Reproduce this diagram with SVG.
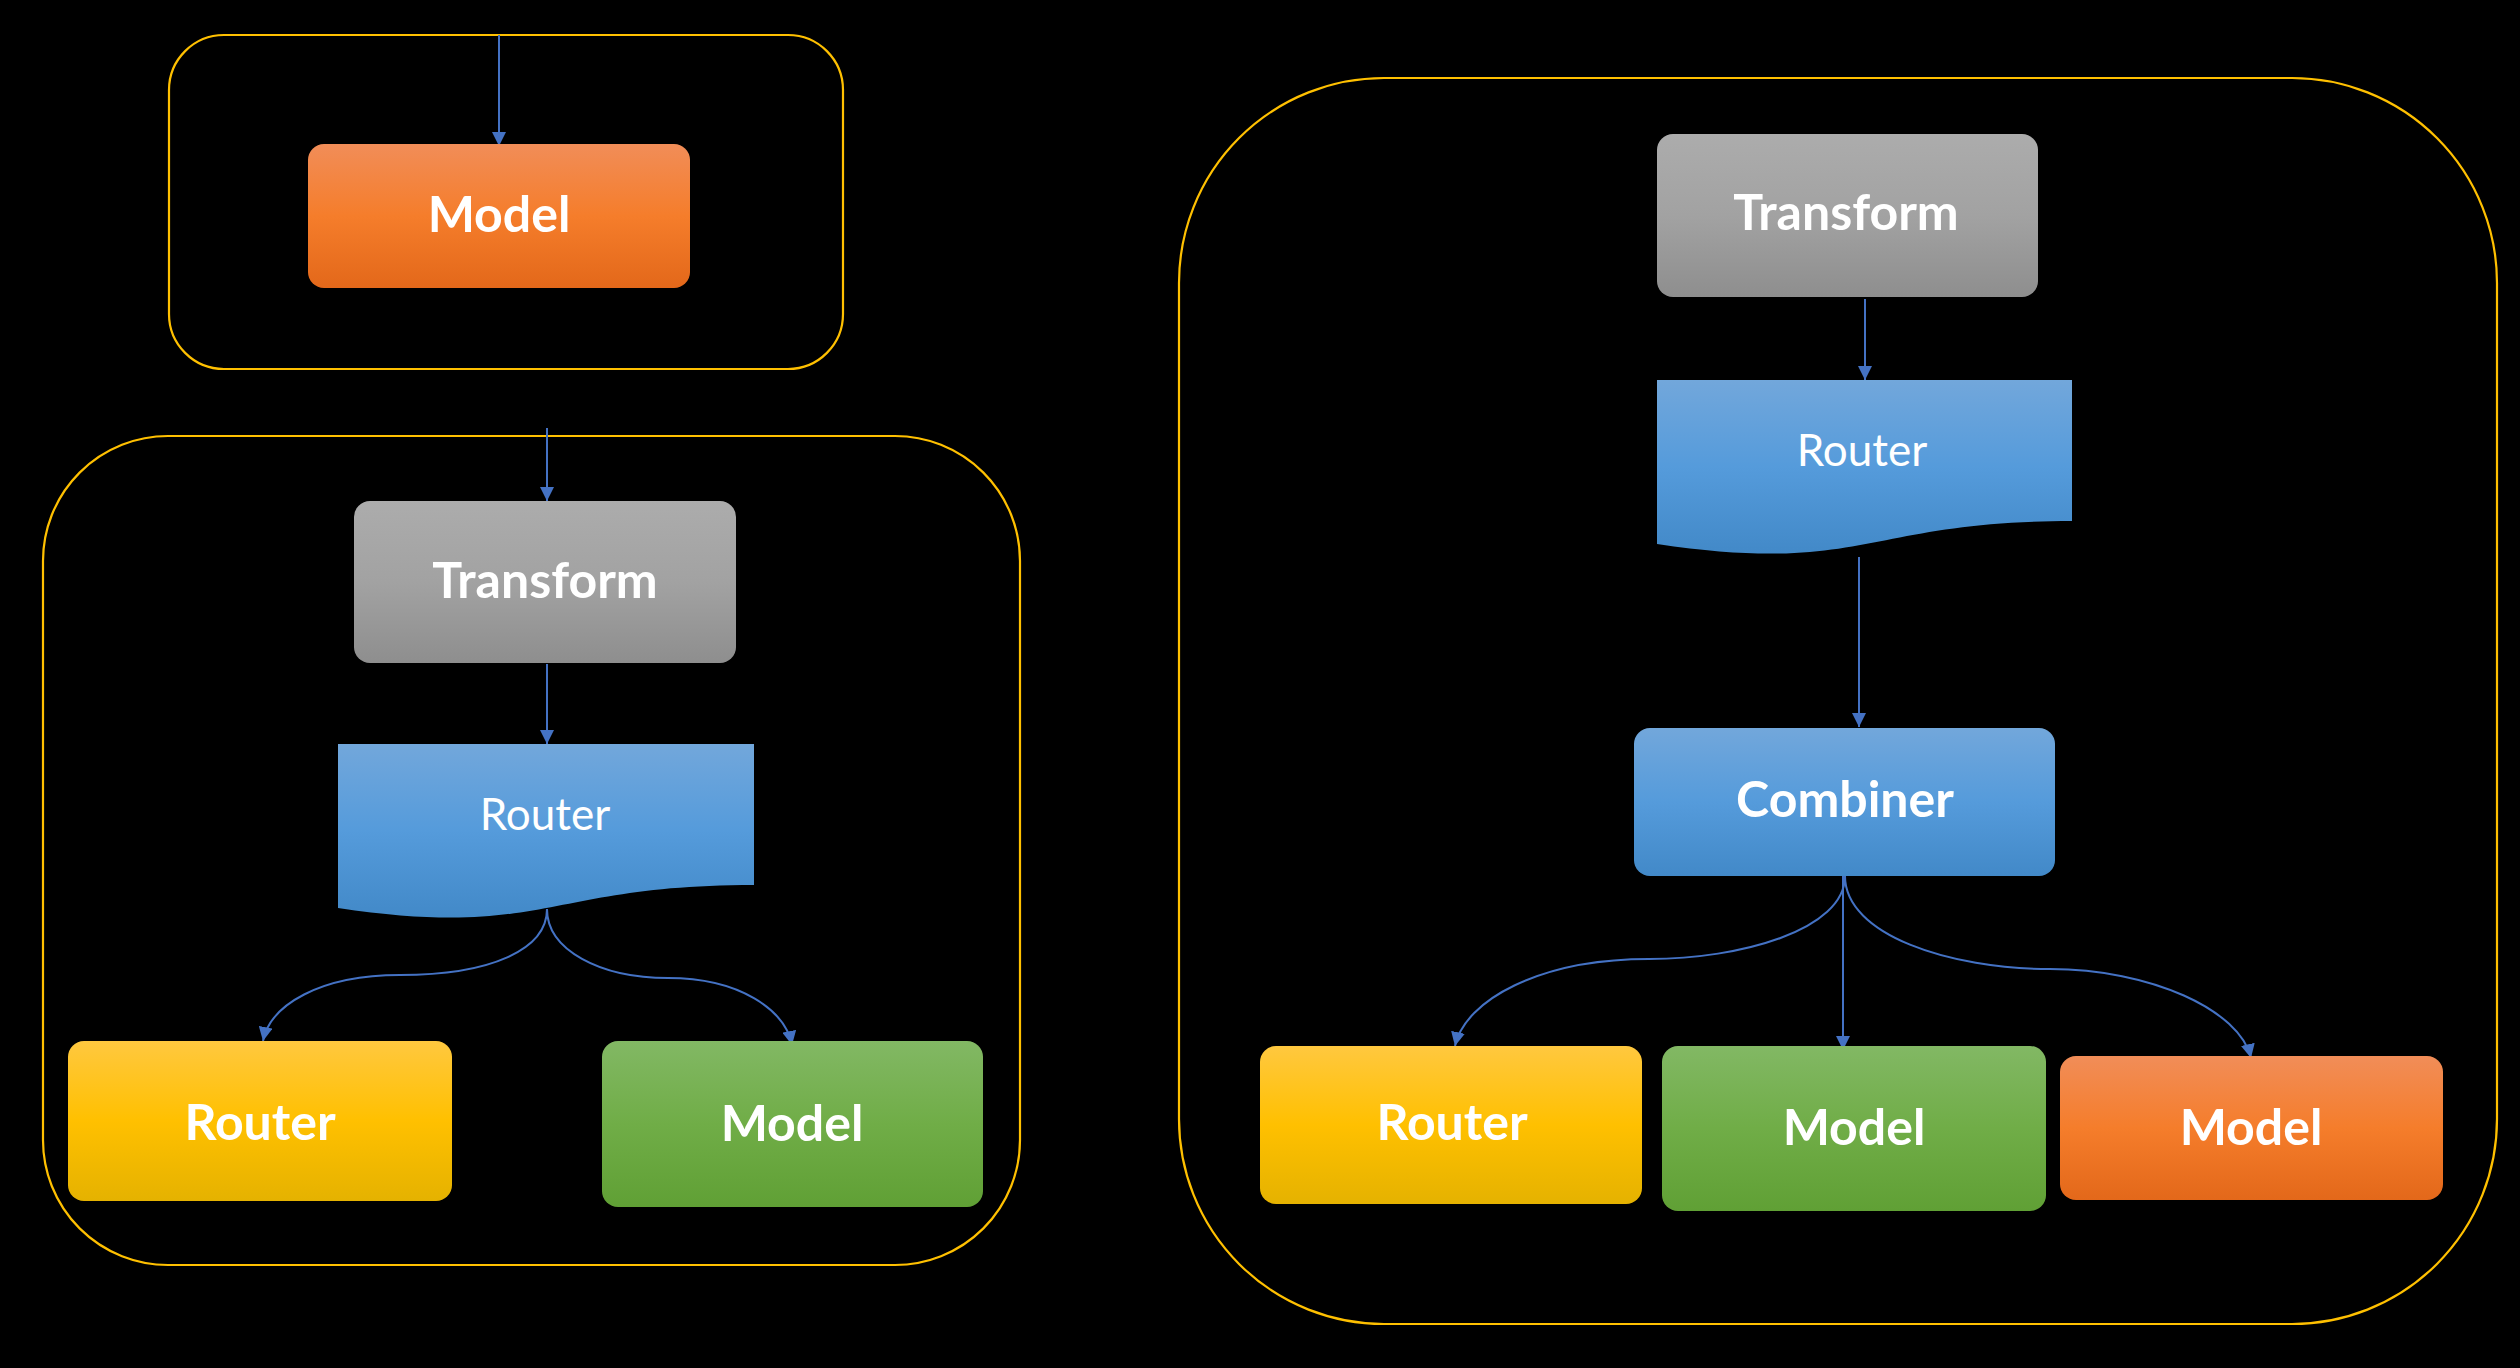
<svg xmlns="http://www.w3.org/2000/svg" width="2520" height="1368" viewBox="0 0 2520 1368">
<defs>
<style>
.frame{fill:none;stroke:#FFC000;stroke-width:2.2}
.t{font-family:Lato,"Carlito","Liberation Sans",sans-serif;fill:#FFFFFF;text-anchor:middle}
.b{font-weight:700;font-size:50px}
.r{font-weight:400;font-size:44px}
.conn{fill:none;stroke:#4472C4;stroke-width:2}
</style>
<linearGradient id="gOrange" x1="0" y1="0" x2="0" y2="1">
<stop offset="0" stop-color="#F18D58"/><stop offset="0.5" stop-color="#F57D2B"/><stop offset="1" stop-color="#E3681A"/>
</linearGradient>
<linearGradient id="gGray" x1="0" y1="0" x2="0" y2="1">
<stop offset="0" stop-color="#ACACAC"/><stop offset="0.5" stop-color="#A2A2A2"/><stop offset="1" stop-color="#8E8E8E"/>
</linearGradient>
<linearGradient id="gBlue" x1="0" y1="0" x2="0" y2="1">
<stop offset="0" stop-color="#72A7DB"/><stop offset="0.5" stop-color="#559BDB"/><stop offset="1" stop-color="#4289C8"/>
</linearGradient>
<linearGradient id="gYellow" x1="0" y1="0" x2="0" y2="1">
<stop offset="0" stop-color="#FFC83F"/><stop offset="0.5" stop-color="#FFC000"/><stop offset="1" stop-color="#E5B200"/>
</linearGradient>
<linearGradient id="gGreen" x1="0" y1="0" x2="0" y2="1">
<stop offset="0" stop-color="#82B864"/><stop offset="0.5" stop-color="#70AD47"/><stop offset="1" stop-color="#60A035"/>
</linearGradient>
<marker id="arrow" viewBox="0 0 10 10" refX="10" refY="5" markerWidth="14" markerHeight="14" markerUnits="userSpaceOnUse" orient="auto">
<path d="M0,0 L10,5 L0,10 Z" fill="#4472C4"/>
</marker>
</defs>
<rect x="0" y="0" width="2520" height="1368" fill="#000000"/>

<g id="frames">
<rect id="frame-top" class="frame" x="169" y="35" width="674" height="334" rx="55" ry="55"/>
<rect id="frame-left" class="frame" x="43" y="436" width="977" height="829" rx="125" ry="125"/>
<rect id="frame-right" class="frame" x="1179" y="78" width="1318" height="1246" rx="205" ry="205"/>
</g>

<g id="connectors">
<path class="conn" d="M499,35 L499,146" marker-end="url(#arrow)"/>
<path class="conn" d="M547,428 L547,501" marker-end="url(#arrow)"/>
<path class="conn" d="M547,664 L547,744" marker-end="url(#arrow)"/>
<path class="conn" d="M547,909 C547,950 490,975 400,975 C320,975 270,1005 263,1041" marker-end="url(#arrow)"/>
<path class="conn" d="M547,909 C547,950 600,978 668,978 C740,978 785,1010 792,1045" marker-end="url(#arrow)"/>
<path class="conn" d="M1865,299 L1865,380" marker-end="url(#arrow)"/>
<path class="conn" d="M1859,557 L1859,727" marker-end="url(#arrow)"/>
<path class="conn" d="M1845,876 C1845,930 1740,959 1649,959 C1540,959 1465,1000 1455,1046" marker-end="url(#arrow)"/>
<path class="conn" d="M1843,876 L1843,1050" marker-end="url(#arrow)"/>
<path class="conn" d="M1845,876 C1845,935 1950,969 2050,969 C2150,969 2240,1010 2251,1058" marker-end="url(#arrow)"/>
</g>

<g id="top-model">
<rect x="308" y="144" width="382" height="144" rx="16" fill="url(#gOrange)"/>
<text class="t b" x="499" y="232">Model</text>
</g>

<g id="left-transform">
<rect x="354" y="501" width="382" height="162" rx="16" fill="url(#gGray)"/>
<text class="t b" x="545" y="598">Transform</text>
</g>
<g id="left-router-doc">
<path d="M338,744 H754 V885 C546,885 546,939 338,908 Z" fill="url(#gBlue)"/>
<text class="t r" x="545" y="830">Router</text>
</g>
<g id="left-router">
<rect x="68" y="1041" width="384" height="160" rx="16" fill="url(#gYellow)"/>
<text class="t b" x="260" y="1140">Router</text>
</g>
<g id="left-model">
<rect x="602" y="1041" width="381" height="166" rx="16" fill="url(#gGreen)"/>
<text class="t b" x="792" y="1141">Model</text>
</g>

<g id="right-transform">
<rect x="1657" y="134" width="381" height="163" rx="16" fill="url(#gGray)"/>
<text class="t b" x="1846" y="230">Transform</text>
</g>
<g id="right-router-doc">
<path d="M1657,380 H2072 V521 C1865,521 1865,575 1657,544 Z" fill="url(#gBlue)"/>
<text class="t r" x="1862" y="466">Router</text>
</g>
<g id="right-combiner">
<rect x="1634" y="728" width="421" height="148" rx="16" fill="url(#gBlue)"/>
<text class="t b" x="1845" y="817">Combiner</text>
</g>
<g id="right-router">
<rect x="1260" y="1046" width="382" height="158" rx="16" fill="url(#gYellow)"/>
<text class="t b" x="1452" y="1140">Router</text>
</g>
<g id="right-model-green">
<rect x="1662" y="1046" width="384" height="165" rx="16" fill="url(#gGreen)"/>
<text class="t b" x="1854" y="1145">Model</text>
</g>
<g id="right-model-orange">
<rect x="2060" y="1056" width="383" height="144" rx="16" fill="url(#gOrange)"/>
<text class="t b" x="2251" y="1145">Model</text>
</g>
</svg>
